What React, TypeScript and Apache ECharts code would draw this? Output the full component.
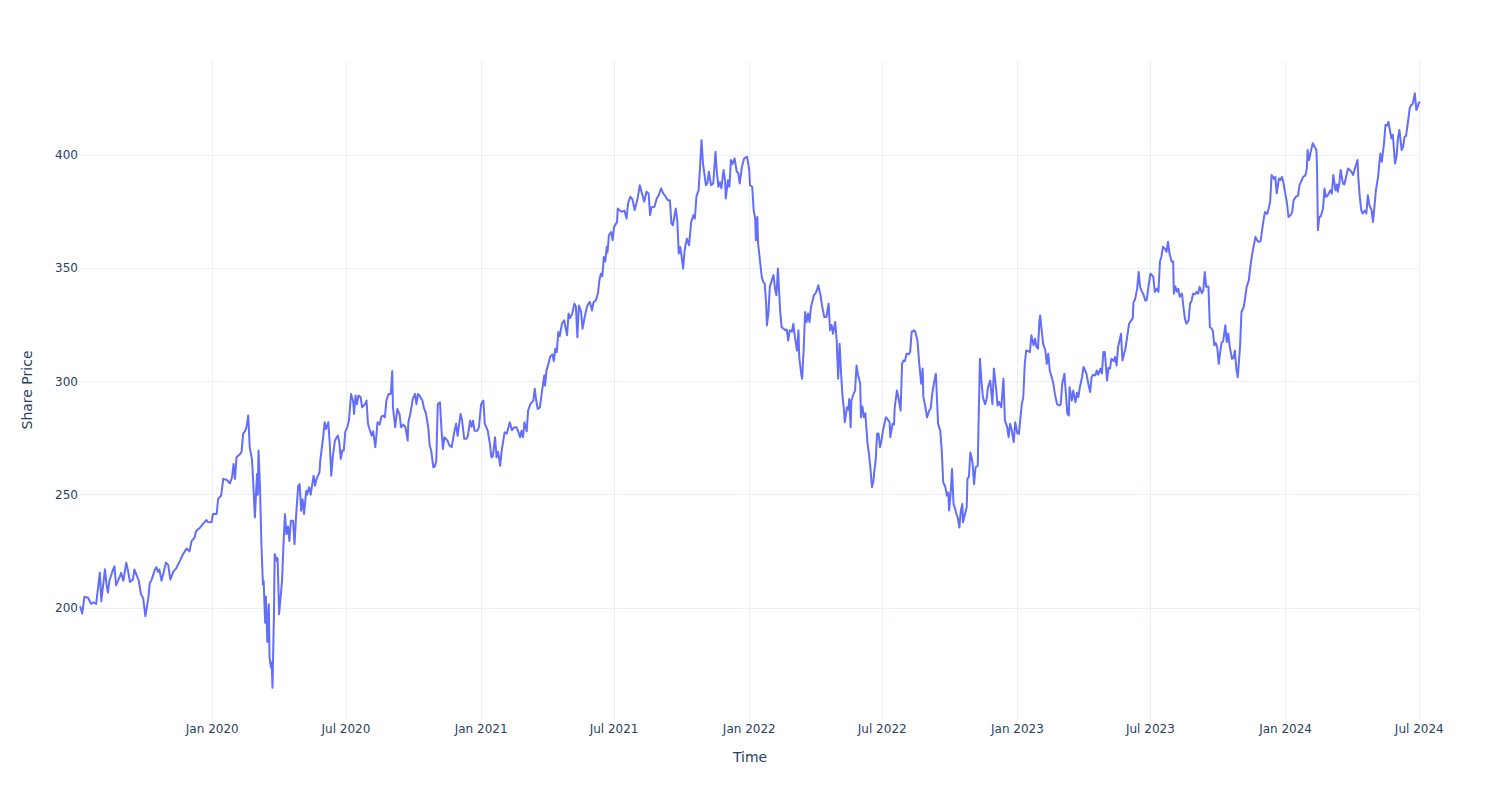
import React, { useEffect, useRef } from "react";
import * as echarts from "echarts";

// Day offsets are counted from the first trading day shown (2019-07-05).
const START_DATE = "2019-07-05";
const END_OFFSET = 1824;

// [day offset, share price]
const prices2019: [number, number][] = [
  [0, 200.8], [3, 197.5], [6, 204.9], [11, 204.5], [15, 201.8], [18, 202.5], [22, 201.8], [27, 215.6], [29, 203],
  [34, 217.1], [36, 210.5], [38, 206.8], [40, 212], [45, 217], [47, 218.3], [49, 210], [54, 213.7], [56, 215.5],
  [59, 212], [63, 220], [65, 217], [68, 211.5], [72, 212.5], [74, 217], [78, 213.7], [80, 212], [83, 206],
  [86, 204.3], [89, 196.3], [93, 204.3], [95, 211], [97, 212], [102, 217], [104, 218], [106, 216], [108, 217],
  [111, 212], [114, 216], [117, 220], [120, 219], [123, 212.5], [127, 216], [131, 217.5], [136, 220.8], [140, 223.6],
  [145, 226.2], [149, 225], [152, 229.6], [156, 231.1], [158, 234], [163, 235.3], [167, 237], [172, 238.8], [174, 238],
  [179, 237.8],
];

const prices2020: [number, number][] = [
  [181, 241.5], [186, 241.5], [188, 248.1], [192, 249.6], [193, 251.8], [195, 257], [200, 256.5], [204, 255],
  [207, 257.7], [209, 263.6], [211, 257], [213, 266.5], [218, 268], [220, 269], [222, 276.9], [225, 278.3],
  [227, 280.5], [229, 285], [231, 271], [234, 265.8], [235, 260.6], [237, 247.3], [238, 240], [241, 259.2],
  [242, 250], [243, 269.5], [245, 253.3], [247, 227.4], [249, 210.4], [250, 211.9], [252, 193.5], [253, 205],
  [255, 185], [257, 201.6], [258, 178], [260, 173.6], [261, 176], [262, 164.7], [264, 197], [265, 223.8],
  [268, 220.8], [269, 222], [271, 197.2], [275, 212], [277, 228.2], [279, 241.5], [281, 232.6], [283, 236],
  [285, 229.6], [287, 238.5], [290, 238.5], [292, 228.2], [294, 240], [297, 254], [299, 254.7], [301, 242.9],
  [303, 248], [305, 241.5], [308, 251.8], [309, 250], [312, 253.3], [314, 250], [318, 258.4], [320, 254],
  [322, 257], [326, 259.9], [327, 265], [331, 275.4], [333, 282], [335, 279], [338, 282], [340, 272.4],
  [342, 258.4], [344, 266.5], [347, 273.9], [349, 275], [351, 276.1], [353, 273], [355, 265.8], [357, 269.5],
  [359, 269.5], [361, 277.6], [364, 280], [366, 282.7], [367, 286.4], [369, 294.5], [372, 290.8], [373, 285.7],
  [375, 293.8], [377, 290], [379, 293.8], [382, 293.1], [384, 288.6], [388, 290], [390, 291.6], [392, 281.3],
  [394, 279], [397, 276.1], [399, 278], [402, 271], [405, 282], [408, 281], [410, 284.2], [412, 285],
  [415, 284.2], [417, 291.6], [420, 294.5], [423, 294.5], [425, 304.6], [426, 288.6], [429, 279.8], [432, 287.9],
  [435, 285.5], [437, 279.8], [440, 281], [443, 279.8], [446, 273.9], [447, 282], [450, 286.4], [453, 292.3],
  [456, 294.5], [458, 290], [460, 294.5], [462, 293.8], [466, 291.6], [468, 288.6], [471, 285.7], [474, 279.8],
  [476, 271.7], [478, 269.5], [481, 262.1], [483, 262.5], [485, 265], [487, 290], [490, 290.8], [492, 279.1],
  [494, 270.2], [496, 275.4], [500, 274], [503, 271.7], [506, 271], [509, 276.9], [512, 281.3], [514, 276],
  [518, 285.7], [520, 283], [523, 274.7], [526, 274.7], [528, 276], [531, 282.7], [533, 280], [535, 282.7],
  [537, 278.3], [541, 278.3], [543, 279.8],
];

const prices2021: [number, number][] = [
  [546, 290], [549, 291.6], [551, 281.3], [555, 278.3], [558, 272.4], [560, 266.5], [562, 267], [565, 275.4],
  [567, 266.5], [569, 269], [572, 262.8], [574, 269.5], [578, 277.6], [581, 277], [585, 282], [588, 278.5],
  [591, 279.8], [594, 279.8], [596, 278.3], [599, 275.4], [601, 278.3], [603, 275.4], [605, 282], [608, 278],
  [610, 287.2], [613, 290], [617, 291.6], [619, 296.8], [621, 291.6], [623, 287.9], [626, 288.6], [629, 296],
  [632, 302.7], [633, 298.2], [635, 304.9], [637, 307], [640, 311], [643, 312], [645, 309], [647, 314.5],
  [649, 313], [651, 321.9], [653, 320], [656, 325.5], [659, 327], [663, 320.4], [665, 330], [667, 328],
  [670, 330], [673, 334.4], [675, 333], [677, 319.6], [679, 333.6], [682, 331], [684, 323.3], [687, 328.5],
  [690, 332.9], [692, 334.4], [694, 335.1], [697, 331.4], [699, 335], [702, 335.8], [705, 338.8], [707, 344.7],
  [709, 347.6], [711, 346.5], [713, 355], [715, 353], [717, 359.4], [718, 357], [720, 364.6], [723, 366],
  [725, 362.4], [727, 368.3], [731, 370.5], [732, 376.4], [735, 375.5], [737, 375], [741, 375.5], [744, 372],
  [746, 378.6], [749, 381.6], [752, 380.5], [755, 375.7], [759, 380.8], [762, 386.7], [765, 383], [768, 379.4],
  [771, 383.8], [774, 383], [776, 373.5], [778, 377], [782, 377.2], [785, 380.8], [788, 382.5], [791, 385.3],
  [794, 383], [796, 382.3], [800, 380.1], [803, 380.1], [805, 369.8], [807, 369], [811, 376.4], [813, 371.2],
  [815, 356.5], [817, 359.4], [819, 355], [821, 349.9], [823, 358], [826, 363.1], [829, 360.2], [832, 370.5],
  [835, 373.5], [837, 372], [839, 381.6], [842, 384.5], [844, 394.8], [846, 406.6], [848, 396.3], [852, 386.7],
  [854, 387.5], [856, 392.6], [859, 386.7], [862, 387.5], [865, 401.5], [867, 392], [869, 386], [871, 388],
  [873, 385.3], [876, 393.4], [878, 389], [879, 380.8], [882, 388.9], [884, 386], [886, 397.8], [888, 396],
  [891, 398.5], [894, 392.6], [896, 392], [898, 387.5], [901, 394.8], [904, 398.5], [908, 399.2],
];

const prices2022: [number, number][] = [
  [911, 393.4], [912, 386.7], [915, 386], [917, 375.7], [919, 372], [920, 362.4], [922, 372.7], [923, 361],
  [926, 352.1], [928, 346.2], [930, 344], [932, 343.2], [934, 334.4], [935, 324.8], [937, 330], [939, 341.8],
  [941, 344], [944, 347], [946, 341], [948, 338.1], [950, 349.9], [953, 331.4], [955, 324], [957, 323.5],
  [960, 322.6], [962, 323], [964, 318.1], [966, 322.6], [969, 322], [971, 325.5], [973, 320], [976, 313.7],
  [978, 322.6], [979, 310.8], [982, 302.7], [983, 301.2], [985, 313.7], [987, 330.7], [989, 326.3], [991, 330],
  [993, 326.3], [995, 332.9], [999, 338.1], [1001, 338.8], [1003, 340.3], [1005, 342.5], [1006, 341], [1008, 338],
  [1010, 333.6], [1013, 328.5], [1016, 328.5], [1019, 334.4], [1021, 322.6], [1023, 325], [1025, 321.1],
  [1028, 326.3], [1030, 318.1], [1032, 301.2], [1034, 316.7], [1036, 303.5], [1038, 293.1], [1040, 287.2],
  [1041, 282], [1044, 288.6], [1046, 287.5], [1047, 292.3], [1049, 279.8], [1050, 291.6], [1053, 294.5],
  [1055, 296], [1057, 307.1], [1059, 303], [1062, 299], [1063, 284.2], [1065, 289], [1067, 284.2], [1069, 286],
  [1070, 281.3], [1072, 272.4], [1074, 268], [1076, 261.4], [1078, 253.3], [1080, 256], [1081, 259.9],
  [1083, 265], [1085, 276.9], [1087, 277], [1089, 271], [1091, 274], [1093, 278.3], [1097, 284.2], [1099, 283.5],
  [1102, 282], [1103, 275.4], [1106, 281.3], [1108, 281], [1109, 288.6], [1112, 296], [1114, 293], [1117, 287.2],
  [1119, 307.8], [1121, 309.3], [1123, 309], [1125, 312.3], [1128, 312], [1130, 313], [1132, 321.9],
  [1135, 322.6], [1137, 322], [1140, 318], [1142, 309.3], [1145, 299], [1147, 305.7], [1148, 293.1], [1150, 290],
  [1153, 284.2], [1156, 287.2], [1158, 288], [1160, 294.5], [1163, 300.4], [1165, 303.4], [1167, 288.6],
  [1168, 281.3], [1171, 278.3], [1173, 269.5], [1175, 255.5], [1178, 253.3], [1180, 249.6], [1182, 251],
  [1183, 243], [1185, 250], [1187, 261.4], [1189, 245.9], [1191, 244], [1193, 241.5], [1195, 239.5],
  [1197, 235.5], [1199, 243], [1201, 245.9], [1202, 237.8], [1205, 242], [1207, 244.5], [1208, 257], [1210, 258],
  [1212, 268.7], [1214, 266], [1215, 263.6], [1217, 254.7], [1219, 262.1], [1222, 262.8], [1223, 279.8],
  [1225, 310.1], [1227, 300.4], [1229, 293.1], [1232, 290], [1234, 292], [1236, 297.5], [1239, 300.4],
  [1242, 290], [1244, 305.7], [1247, 297], [1249, 289.4], [1251, 291], [1254, 288.6], [1257, 301.2],
  [1259, 282.7], [1262, 280], [1264, 275.4], [1266, 281.3], [1268, 279], [1271, 273.2], [1273, 282],
];

const prices2023: [number, number][] = [
  [1276, 277], [1278, 276.9], [1280, 283.5], [1282, 290], [1284, 293.1], [1286, 307.8], [1288, 313.7],
  [1290, 313.5], [1293, 313], [1295, 320.4], [1298, 316], [1300, 318.9], [1302, 315.2], [1304, 314.5],
  [1306, 327], [1307, 329.2], [1309, 322.6], [1311, 316.7], [1314, 313.7], [1316, 307.8], [1318, 312.3],
  [1320, 305], [1322, 302.7], [1325, 299], [1327, 294.5], [1330, 290], [1333, 289.4], [1335, 290], [1337, 299],
  [1340, 303.4], [1342, 294.5], [1344, 285.7], [1346, 285], [1347, 297.5], [1350, 291.6], [1352, 296],
  [1355, 290.8], [1357, 295], [1359, 293.1], [1361, 297.5], [1364, 302], [1366, 306.4], [1368, 305],
  [1370, 303.4], [1373, 298.2], [1375, 295.3], [1377, 301.9], [1379, 303], [1382, 302.7], [1384, 304.9],
  [1386, 303], [1389, 305.7], [1391, 303.5], [1393, 313], [1395, 313], [1398, 300.4], [1400, 306], [1402, 305.7],
  [1404, 310.1], [1407, 309], [1409, 310.8], [1411, 307.1], [1413, 315.2], [1415, 318], [1417, 321.1],
  [1419, 309.3], [1421, 312], [1423, 314.5], [1426, 321.1], [1428, 325.5], [1431, 327], [1433, 328],
  [1434, 335.1], [1436, 336], [1439, 341], [1441, 348.4], [1443, 341.8], [1445, 340], [1448, 338.1],
  [1450, 335.8], [1452, 336], [1454, 341], [1457, 347.6], [1459, 347], [1461, 346.2], [1463, 339.6], [1466, 341],
  [1468, 339.6], [1470, 352.9], [1472, 355.1], [1474, 359.5], [1477, 358.5], [1479, 357.3], [1481, 361.7],
  [1483, 356.5], [1486, 352.9], [1488, 353], [1489, 338.8], [1491, 342], [1493, 339.6], [1495, 341],
  [1497, 337.4], [1500, 338.8], [1502, 332.9], [1504, 327.7], [1506, 325.5], [1509, 327], [1511, 334.4],
  [1513, 335.5], [1515, 338.8], [1518, 338.5], [1520, 339.6], [1522, 338.8], [1524, 341.8], [1527, 339],
  [1529, 340.3], [1531, 348.4], [1533, 341.8], [1536, 342], [1538, 324], [1540, 323.5], [1542, 322.6],
  [1544, 315.9], [1546, 317], [1548, 315.2], [1550, 307.8], [1552, 313], [1554, 317.4], [1556, 317.6],
  [1559, 324.8], [1561, 317.4], [1563, 321.1], [1565, 315.5], [1568, 310.1], [1570, 310.3], [1572, 313.7],
  [1574, 305.6], [1576, 301.9], [1577, 306.4], [1579, 315.2], [1581, 330.7], [1584, 332.9], [1586, 337],
  [1588, 341.8], [1591, 344.7], [1593, 350.6], [1595, 355.1], [1597, 358.8], [1600, 363.9], [1602, 362.5],
  [1604, 361.7], [1607, 362], [1609, 366.8], [1611, 371.2], [1613, 374.9], [1616, 374], [1618, 376.4],
  [1620, 379.3], [1622, 391.2], [1625, 389.5], [1627, 390.4], [1629, 383.1], [1632, 389.7], [1634, 389],
  [1636, 390.4], [1638, 388],
];

const prices2024: [number, number][] = [
  [1641, 382.3], [1643, 378.6], [1645, 372.7], [1648, 373.5], [1650, 374.9], [1652, 380.1], [1655, 381.6],
  [1658, 382], [1660, 386.7], [1663, 388.9], [1665, 390.4], [1668, 391], [1670, 394.1], [1671, 402.2],
  [1673, 397.8], [1675, 401], [1678, 405.2], [1680, 404], [1683, 402.2], [1684, 391.9], [1685, 366.8],
  [1687, 372.7], [1689, 373], [1692, 376.4], [1694, 385.3], [1696, 381.6], [1698, 382], [1702, 384.5],
  [1704, 383], [1706, 391.2], [1709, 384.5], [1711, 387], [1712, 383.8], [1714, 387], [1716, 393.4],
  [1719, 387.5], [1721, 387], [1724, 391.2], [1726, 394.1], [1730, 393], [1733, 391.2], [1736, 394.8],
  [1739, 397.8], [1740, 390.4], [1742, 381.6], [1744, 375.7], [1746, 374.2], [1749, 375.5], [1751, 374.2],
  [1753, 382.3], [1755, 378], [1758, 375.7], [1760, 370.5], [1762, 377.2], [1764, 384.5], [1767, 390.4],
  [1769, 397.8], [1770, 400.7], [1772, 397], [1775, 405.2], [1777, 413.3], [1779, 413], [1781, 414.7],
  [1783, 411.1], [1785, 407.4], [1787, 409], [1790, 396.3], [1792, 399.2], [1794, 407.4], [1796, 411.1],
  [1799, 402.2], [1801, 403.5], [1803, 408.1], [1805, 408.5], [1808, 415.5], [1810, 420.7], [1812, 422.1],
  [1814, 422.5], [1817, 427.3], [1819, 419.9], [1821, 421.4], [1822, 422.9], [1824, 423.6],
];

const xTickDates = [
  "2020-01-01", "2020-07-01", "2021-01-01", "2021-07-01", "2022-01-01",
  "2022-07-01", "2023-01-01", "2023-07-01", "2024-01-01", "2024-07-01",
];
const monthNames = ["Jan", "Feb", "Mar", "Apr", "May", "Jun", "Jul", "Aug", "Sep", "Oct", "Nov", "Dec"];
const yTicks = [200, 250, 300, 350, 400];
const yMin = 150.5;
const yMax = 442;

const DAY_MS = 86400000;

export default function App() {
  const ref = useRef<HTMLDivElement>(null);

  useEffect(() => {
    if (!ref.current) return;
    const chart = echarts.init(ref.current, null, { renderer: "svg" });
    const start = Date.parse(START_DATE + "T00:00:00Z");
    const all = [...prices2019, ...prices2020, ...prices2021, ...prices2022, ...prices2023, ...prices2024];
    const data = all.map(([d, p]) => [start + d * DAY_MS, p]);
    const xTicks = xTickDates.map((s) => Date.parse(s + "T00:00:00Z"));
    const gridColor = "#EBF0F8";
    const textColor = "#2a3f5f";
    const font = "DejaVu Sans";

    chart.setOption({
      animation: false,
      backgroundColor: "#ffffff",
      textStyle: { fontFamily: font, color: textColor },
      grid: { left: 80, right: 80, top: 60, bottom: 80, containLabel: false },
      xAxis: {
        type: "value",
        min: start,
        max: start + END_OFFSET * DAY_MS,
        name: "Time",
        nameLocation: "middle",
        nameGap: 30,
        nameTextStyle: { fontFamily: font, fontSize: 14, color: textColor },
        axisLine: { show: false },
        axisTick: { show: false, customValues: xTicks },
        axisLabel: {
          customValues: xTicks,
          margin: 3,
          fontFamily: font,
          fontSize: 12,
          color: textColor,
          formatter: (v: number) => {
            const d = new Date(v);
            return monthNames[d.getUTCMonth()] + " " + d.getUTCFullYear();
          },
        },
        splitLine: { show: true, lineStyle: { color: gridColor, width: 1 } },
      },
      yAxis: {
        type: "value",
        min: yMin,
        max: yMax,
        name: "Share Price",
        nameLocation: "middle",
        nameGap: 46,
        nameTextStyle: { fontFamily: font, fontSize: 14, color: textColor },
        axisLine: { show: false },
        axisTick: { show: false, customValues: yTicks },
        axisLabel: {
          customValues: yTicks,
          margin: 2,
          fontFamily: font,
          fontSize: 12,
          color: textColor,
        },
        splitLine: { show: true, lineStyle: { color: gridColor, width: 1 } },
      },
      series: [
        {
          type: "line",
          data,
          showSymbol: false,
          symbol: "none",
          lineStyle: { color: "#636efa", width: 2, join: "round" },
          itemStyle: { color: "#636efa" },
        },
      ],
    });

    return () => chart.dispose();
  }, []);

  return (
    <div
      ref={ref}
      style={{ position: "absolute", left: 0, top: 0, width: 1500, height: 800 }}
    />
  );
}
